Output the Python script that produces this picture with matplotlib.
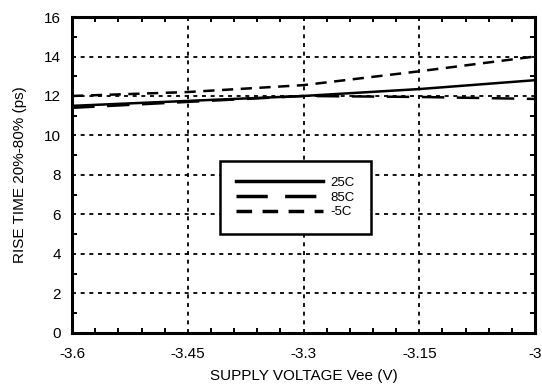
import matplotlib
matplotlib.use("Agg")
import matplotlib.pyplot as plt
from matplotlib.ticker import MultipleLocator

plt.rcParams['font.family'] = ['Liberation Sans', 'DejaVu Sans']

# supply voltage points
vee = [-3.6, -3.45, -3.3, -3.15, -3.0]
# rise time (ps) at each temperature
rise_25c = [11.5, 11.75, 12.0, 12.35, 12.8]
rise_85c = [11.4, 11.7, 12.0, 11.95, 11.85]
rise_m5c = [12.0, 12.2, 12.55, 13.25, 14.0]

fig = plt.figure(figsize=(5.42, 3.87), dpi=100)
ax = fig.add_axes([0.133, 0.140, 0.854, 0.816])

ax.plot(vee, rise_25c, color='black', linewidth=1.8, label='25C')
ax.plot(vee, rise_85c, color='black', linewidth=1.8, dashes=(9, 5), label='85C')
ax.plot(vee, rise_m5c, color='black', linewidth=1.8, dashes=(4.5, 3), label='-5C')

ax.set_xlim(-3.6, -3.0)
ax.set_ylim(0, 16)
ax.set_xticks([-3.6, -3.45, -3.3, -3.15, -3.0])
ax.set_xticklabels(['-3.6', '-3.45', '-3.3', '-3.15', '-3'])
ax.set_yticks(range(0, 17, 2))
ax.xaxis.set_minor_locator(MultipleLocator(0.03))
ax.yaxis.set_minor_locator(MultipleLocator(1))

ax.grid(True, which='major', color='black', linestyle=(0, (2.2, 2.6)), linewidth=1.3)
ax.tick_params(which='both', direction='in', top=True, right=True, labelsize=11, color='black')
ax.tick_params(axis='x', which='major', length=0, pad=10)
ax.tick_params(axis='y', which='major', length=0, pad=8)
ax.tick_params(which='minor', length=3.5, width=1.4)
for s in ax.spines.values():
    s.set_linewidth(2.2)

ax.set_xlabel('SUPPLY VOLTAGE Vee (V)', fontsize=11, labelpad=6)
ax.set_ylabel('RISE TIME 20%-80% (ps)', fontsize=11, labelpad=12)

leg = ax.legend(loc='upper left', bbox_to_anchor=(0.305, 0.566), fontsize=9.5,
                handlelength=6.6, handletextpad=0.6, labelspacing=0.2,
                borderpad=1.2, fancybox=False, framealpha=1, edgecolor='black')
leg.get_frame().set_linewidth(1.8)
for h in leg.get_lines():
    h.set_linewidth(2.5)

fig.savefig('out.png', dpi=100)
